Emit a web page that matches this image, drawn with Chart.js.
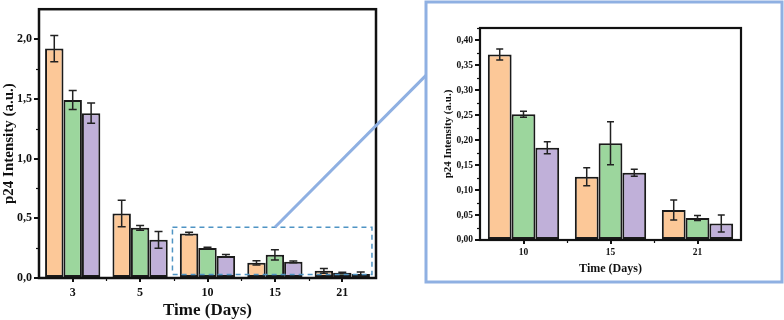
<!DOCTYPE html>
<html>
<head>
<meta charset="utf-8">
<script src="https://cdn.jsdelivr.net/npm/chart.js@4.4.1/dist/chart.umd.min.js"></script>
<style>
  html, body { margin: 0; padding: 0; background: #fff; }
  #page { position: relative; width: 784px; height: 320px; overflow: hidden; }
  #mainBox { position: absolute; left: 0; top: 0; width: 380px; height: 320px; }
  #insetBox { position: absolute; left: 428px; top: 4px; width: 352px; height: 276px; }
  #overlay { position: absolute; left: 0; top: 0; pointer-events: none; }
</style>
</head>
<body>
<div id="page">
  <div id="mainBox"><canvas id="mainChart"></canvas></div>
  <div id="insetBox"><canvas id="insetChart"></canvas></div>
  <canvas id="overlay" width="784" height="320"></canvas>
</div>
<script>
// time points (days)
const days = ['3', '5', '10', '15', '21'];

// three groups, mean and error
const orangeVals = [1.92, 0.54, 0.372, 0.127, 0.060];
const orangeErr  = [0.11, 0.11, 0.011, 0.018, 0.020];
const greenVals  = [1.49, 0.42, 0.252, 0.194, 0.044];
const greenErr   = [0.08, 0.02, 0.006, 0.043, 0.005];
const purpleVals = [1.38, 0.32, 0.185, 0.135, 0.033];
const purpleErr  = [0.085, 0.07, 0.012, 0.007, 0.017];

// zoomed part starts at day 10
const zoomFrom = 2;

const colors = ['#fcc898', '#9cd69d', '#c0b0d9'];
const serif = '"Liberation Serif", "Times New Roman", serif';

const errorBars = {
  id: 'errorBars',
  afterDatasetsDraw(chart, args, opts) {
    const ctx = chart.ctx;
    const y = chart.scales.y;
    ctx.save();
    ctx.strokeStyle = '#222';
    ctx.lineWidth = opts.width || 1.5;
    chart.data.datasets.forEach((ds, i) => {
      const meta = chart.getDatasetMeta(i);
      meta.data.forEach((bar, j) => {
        const v = ds.data[j], e = ds.errors[j];
        const top = y.getPixelForValue(v + e);
        const bot = y.getPixelForValue(v - e);
        const c = opts.cap || 4;
        ctx.beginPath();
        ctx.moveTo(bar.x, top); ctx.lineTo(bar.x, bot);
        ctx.moveTo(bar.x - c, top); ctx.lineTo(bar.x + c, top);
        ctx.moveTo(bar.x - c, bot); ctx.lineTo(bar.x + c, bot);
        ctx.stroke();
      });
    });
    ctx.restore();
  }
};

const frame = {
  id: 'frame',
  afterDraw(chart, args, opts) {
    const a = chart.chartArea;
    const ctx = chart.ctx;
    const y = chart.scales.y, x = chart.scales.x;
    ctx.save();
    ctx.strokeStyle = '#111';
    ctx.lineWidth = opts.width;
    ctx.strokeRect(a.left, a.top, a.right - a.left, a.bottom - a.top);
    // minor ticks on y
    ctx.lineWidth = 1.2;
    for (let v = opts.minor; v < y.max; v += opts.minor * 2) {
      const py = Math.round(y.getPixelForValue(v)) + 0.5;
      ctx.beginPath();
      ctx.moveTo(a.left, py); ctx.lineTo(a.left - 3, py);
      ctx.stroke();
    }
    // minor ticks on x, between groups
    for (let k = 0; k < chart.data.labels.length - 1; k++) {
      const px = Math.round(x.getPixelForValue(k + 0.5)) + 0.5;
      ctx.beginPath();
      ctx.moveTo(px, a.bottom); ctx.lineTo(px, a.bottom + 3);
      ctx.stroke();
    }
    ctx.restore();
  }
};

function makeDatasets(from) {
  const vals = [orangeVals, greenVals, purpleVals];
  const errs = [orangeErr, greenErr, purpleErr];
  return vals.map((v, i) => ({
    data: v.slice(from),
    errors: errs[i].slice(from),
    backgroundColor: colors[i],
    borderColor: '#1a1a1a',
    borderWidth: 2,
    borderSkipped: false,
    categoryPercentage: 0.82,
    barPercentage: 1.0
  }));
}

function makeOptions(cfg) {
  return {
    responsive: true,
    maintainAspectRatio: false,
    animation: false,
    layout: { padding: cfg.padding },
    plugins: {
      legend: { display: false },
      tooltip: { enabled: false },
      errorBars: { cap: cfg.cap, width: 1.5 },
      frame: { width: cfg.frameWidth, minor: cfg.step / 2 }
    },
    scales: {
      x: {
        grid: { display: true, drawOnChartArea: false, offset: false, tickLength: 4, color: '#111', lineWidth: 2 },
        border: { display: false },
        ticks: { color: '#111', padding: cfg.xTickPad, font: { family: serif, weight: 'bold', size: cfg.tickSize } },
        title: { display: true, text: 'Time (Days)', color: '#111', padding: cfg.xTitlePad,
                 font: { family: serif, weight: 'bold', size: cfg.xTitleSize } },
        afterFit(s) { s.height = cfg.xHeight; }
      },
      y: {
        min: 0,
        max: cfg.max,
        grid: { display: true, drawOnChartArea: false, tickLength: 5, color: '#111', lineWidth: 2 },
        border: { display: false },
        ticks: {
          stepSize: cfg.step,
          includeBounds: false,
          color: '#111',
          padding: 2,
          font: { family: serif, weight: 'bold', size: cfg.tickSize },
          callback: v => v.toFixed(cfg.decimals).replace('.', ',')
        },
        title: { display: true, text: 'p24 Intensity (a.u.)', color: '#111', padding: 0,
                 font: { family: serif, weight: 'bold', size: cfg.titleSize } },
        afterFit(s) { s.width = cfg.yWidth; }
      }
    }
  };
}

const mainChart = new Chart(document.getElementById('mainChart'), {
  type: 'bar',
  data: { labels: days, datasets: makeDatasets(0) },
  options: makeOptions({
    padding: { top: 4, right: 4, left: 0, bottom: 0 },
    max: 2.25, step: 0.5, decimals: 1,
    yWidth: 39, xHeight: 42,
    tickSize: 12, titleSize: 15, xTitleSize: 17, xTickPad: 4, xTitlePad: { top: 4, bottom: -1 },
    cap: 4, frameWidth: 2.5
  }),
  plugins: [errorBars, frame]
});

const insetChart = new Chart(document.getElementById('insetChart'), {
  type: 'bar',
  data: { labels: days.slice(zoomFrom), datasets: makeDatasets(zoomFrom) },
  options: makeOptions({
    padding: { top: 24, right: 39, left: 14, bottom: 0 },
    max: 0.425, step: 0.05, decimals: 2,
    yWidth: 38, xHeight: 40,
    tickSize: 9.5, titleSize: 11, xTitleSize: 12, xTickPad: 3, xTitlePad: { top: 3 },
    cap: 3.5, frameWidth: 2.2
  }),
  plugins: [errorBars, frame]
});

// zoom decorations: dashed box on the main chart, connector, inset frame
(function drawOverlay() {
  const ctx = document.getElementById('overlay').getContext('2d');
  const mx = mainChart.scales.x, my = mainChart.scales.y;
  const box = document.getElementById('insetBox');
  const ix = box.offsetLeft, iy = box.offsetTop;
  const iY = insetChart.scales.y;

  const left = mx.getPixelForValue(zoomFrom - 0.52);
  const right = mx.getPixelForValue(days.length - 0.56);
  const top = my.getPixelForValue(0.425);
  const bottom = my.getPixelForValue(0.03);

  ctx.save();
  ctx.strokeStyle = '#4f94c4';
  ctx.lineWidth = 1.5;
  ctx.setLineDash([5, 4]);
  ctx.strokeRect(left, top, right - left, bottom - top);
  ctx.restore();

  // inset frame
  const fl = ix - 2, ft = iy - 2, fr = ix + box.offsetWidth + 2, fb = iy + box.offsetHeight + 2;
  ctx.save();
  ctx.strokeStyle = '#8fb0e2';
  ctx.lineWidth = 3;
  ctx.strokeRect(fl, ft, fr - fl, fb - ft);

  // connector
  ctx.beginPath();
  ctx.moveTo(mx.getPixelForValue(3), top);
  ctx.lineTo(fl, iy + iY.getPixelForValue(0.33));
  ctx.stroke();
  ctx.restore();
})();
</script>
</body>
</html>
